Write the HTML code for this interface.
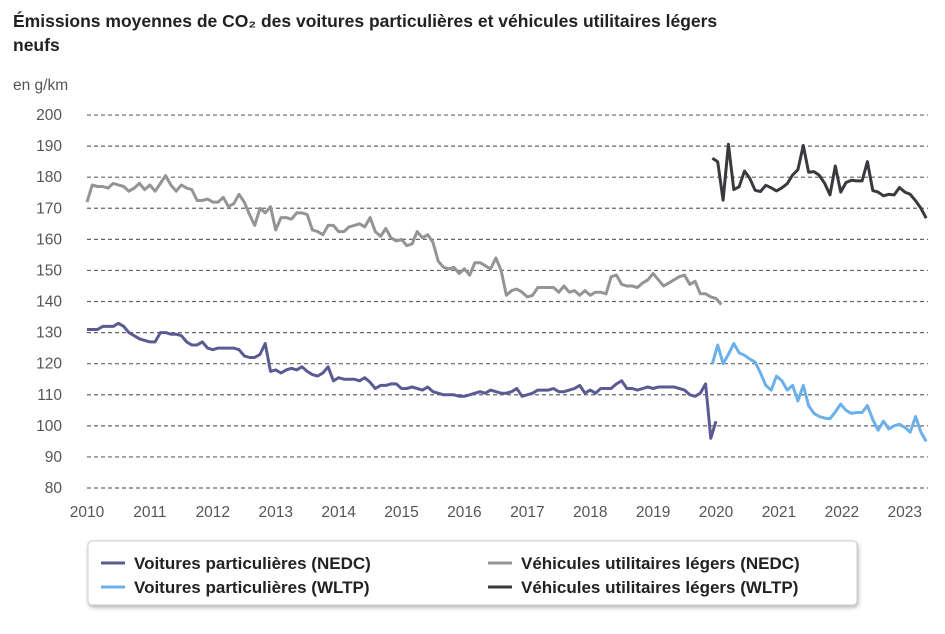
<!DOCTYPE html>
<html><head><meta charset="utf-8">
<style>
body{margin:0;background:#fff;width:945px;height:629px;overflow:hidden;font-family:"Liberation Sans",sans-serif;}
svg text{font-family:"Liberation Sans",sans-serif;}
</style></head>
<body>
<svg id="chart" width="945" height="629">
<text x="13" y="27" font-size="17.5" font-weight="bold" fill="#222">Émissions moyennes de CO₂ des voitures particulières et véhicules utilitaires légers</text>
<text x="13" y="51" font-size="17.5" font-weight="bold" fill="#222">neufs</text>
<text x="13" y="90" font-size="15.5" fill="#555">en g/km</text>
<g id="grid"></g><g id="yticks"></g><g id="xticks"></g><g id="series"></g>
<rect x="88" y="541" width="769" height="64" rx="4" fill="#fff" stroke="#ccc" style="filter:drop-shadow(1px 2px 2px rgba(0,0,0,0.3))"/>
<g><line x1="101" y1="563" x2="125" y2="563" stroke="#5b5b94" stroke-width="3"/><text x="134" y="569" font-size="17" font-weight="bold" fill="#222">Voitures particulières (NEDC)</text></g>
<g><line x1="101" y1="587" x2="125" y2="587" stroke="#6cb0ea" stroke-width="3"/><text x="134" y="593" font-size="17" font-weight="bold" fill="#222">Voitures particulières (WLTP)</text></g>
<g><line x1="488" y1="563" x2="512" y2="563" stroke="#949494" stroke-width="3"/><text x="521" y="569" font-size="17" font-weight="bold" fill="#222">Véhicules utilitaires légers (NEDC)</text></g>
<g><line x1="488" y1="587" x2="512" y2="587" stroke="#3a3a3e" stroke-width="3"/><text x="521" y="593" font-size="17" font-weight="bold" fill="#222">Véhicules utilitaires légers (WLTP)</text></g>
</svg>
<script>
const yTicks=[80,90,100,110,120,130,140,150,160,170,180,190,200];
const xYears=[2010,2011,2012,2013,2014,2015,2016,2017,2018,2019,2020,2021,2022,2023];
const carsNedc=[131,131,131,132,132,132,133,132,130,129,128,127.5,
127,127,130,130,129.5,129.5,129,127,126,126,127,125,
124.5,125,125,125,125,124.5,122.5,122,122,123,126.5,117.5,
118,117,118,118.5,118,119,117.5,116.5,116,117,119,114.5,
115.5,115,115,115,114.5,115.5,114,112,113,113,113.5,113.5,
112,112,112.5,112,111.5,112.5,111,110.5,110,110,110,109.5,
109.5,110,110.5,111,110.5,111.5,111,110.5,110.5,111,112,109.5,
110,110.5,111.5,111.5,111.5,112,111,111,111.5,112,113,110.5,
111.5,110.5,112,112,112,113.5,114.5,112,112,111.5,112,112.5,
112,112.5,112.5,112.5,112.5,112,111.5,110,109.5,110.5,113.5,96,101.5];
const vansNedc=[172,177.5,177,177,176.5,178,177.5,177,175.5,176.5,178,176,
177.5,175.5,178,180.5,177.5,175.5,177.5,176.5,176,172.5,172.5,173,
172,172,173.5,170.5,171.5,174.5,172,168,164.5,170,168.5,170.5,
163,167,167,166.5,168.5,168.5,168,163,162.5,161.5,164.5,164.5,
162.5,162.5,164,164.5,165,164,167,162.5,161,163.5,160.5,159.5,
160,158,158.5,162.5,160.5,161.5,159,153,151,150.5,151,149,
150.5,148.5,152.5,152.5,151.5,150.5,154,150,142,143.5,144,143,
141.5,142,144.5,144.5,144.5,144.5,143,145,143,143.5,142,143.5,
142,143,143,142.5,148,148.5,145.5,145,145,144.5,146,147,
149,147,145,146,147,148,148.5,145.5,146.5,142.5,142.5,141.5,
141,139];
const wltpStart=119.3;
const carsWltp=[120,126,120,123,126.5,123.5,122.7,121.5,120.5,117,113,111.5,116,114.5,111.5,113,108,113,106.5,104,103,102.5,102.3,104.5,107,105,104,104.3,104.3,106.5,102,98.6,101.5,99,100,100.5,99.5,98,103,98,95];
const vansWltp=[186.1,185,172.6,190.6,176,176.9,182,179.6,175.8,175.4,177.4,176.6,175.6,176.6,177.9,180.7,182.4,190.2,181.6,181.8,180.6,178,174.3,183.6,175.2,178.3,179,178.8,178.8,185,175.7,175.2,174,174.5,174.3,176.7,175.2,174.5,172.4,170,166.8];

const NS="http://www.w3.org/2000/svg";
const X0=87,PX_MONTH=5.242,Y0=488,PX_UNIT=3.108,WLTP_STEP=1.02;
function xm(m){return X0+m*PX_MONTH;}
function yv(v){return Y0-(v-80)*PX_UNIT;}
function mk(tag,attrs,parent){const e=document.createElementNS(NS,tag);for(const k in attrs)e.setAttribute(k,attrs[k]);document.getElementById(parent).appendChild(e);return e;}
yTicks.forEach(t=>{
  const l=mk('line',{x1:87,x2:928,y1:yv(t),y2:yv(t),stroke:'#666','stroke-width':1.2,'stroke-dasharray':'4 3'},'grid');
  
  
  const tx=mk('text',{x:62,y:yv(t)+5,'text-anchor':'end','font-size':15.5,fill:'#555'},'yticks');
  tx.textContent=t;
  
  
});
xYears.forEach((yr,i)=>{
  const tx=mk('text',{x:xm(i*12),y:517,'text-anchor':'middle','font-size':15.5,fill:'#555'},'xticks');
  tx.textContent=yr;
  
  
});
function line(arr,start,step,color,name){
  const pts=arr.map((v,i)=>xm(start+i*step).toFixed(1)+','+yv(v).toFixed(1)).join(' ');
  const p=mk('polyline',{points:pts,fill:'none',stroke:color,'stroke-width':3,'stroke-linejoin':'round'},'series');
  
  
}
line(vansNedc,0,1,'#949494','vans-nedc-line');
line(carsNedc,0,1,'#5b5b94','cars-nedc-line');
line(carsWltp,wltpStart,WLTP_STEP,'#6cb0ea','cars-wltp-line');
line(vansWltp,wltpStart,WLTP_STEP,'#3a3a3e','vans-wltp-line');
</script>
</body></html>
